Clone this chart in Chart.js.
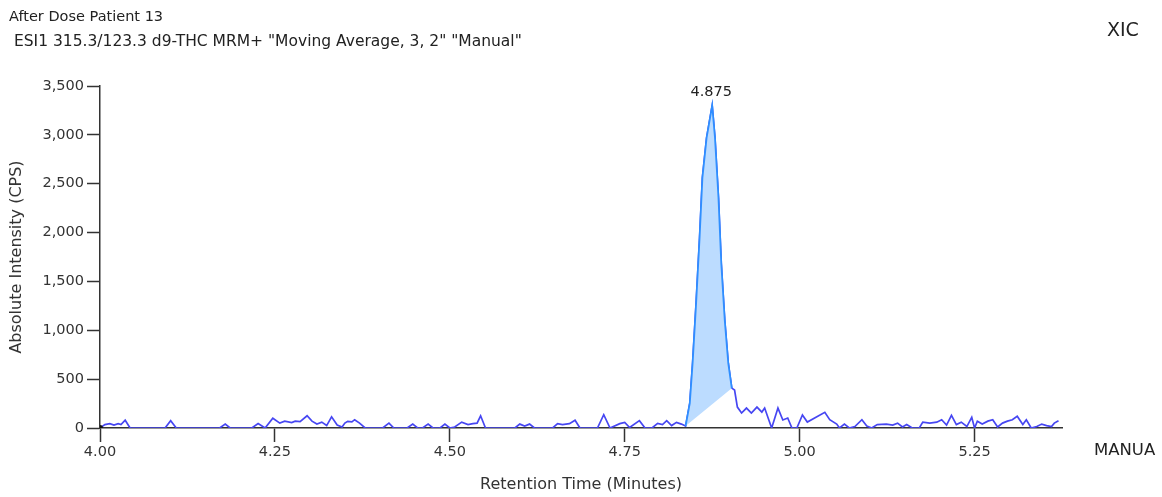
<!DOCTYPE html>
<html>
<head>
<meta charset="utf-8">
<script src="https://cdn.jsdelivr.net/npm/chart.js@4.4.1/dist/chart.umd.min.js"></script>
<style>
  html, body { margin: 0; padding: 0; background: #fff; }
  #chart { display: block; }
</style>
</head>
<body>
<canvas id="chart" width="1162" height="497"></canvas>
<script>
// XIC trace, retention time (min) vs intensity (cps)
const times = [
  4.000, 4.007, 4.014, 4.020, 4.026, 4.030, 4.036, 4.043, 4.093, 4.101, 4.109, 4.171, 4.179, 4.186,
  4.217, 4.226, 4.236, 4.247, 4.257, 4.264, 4.274, 4.279, 4.286, 4.296, 4.303, 4.310, 4.317, 4.324,
  4.331, 4.339, 4.346, 4.350, 4.354, 4.360, 4.364, 4.371, 4.379, 4.404, 4.413, 4.420, 4.439, 4.447,
  4.454, 4.461, 4.469, 4.476, 4.486, 4.493, 4.500, 4.507, 4.517, 4.526, 4.533, 4.539, 4.544, 4.551,
  4.593, 4.600, 4.607, 4.614, 4.621, 4.647, 4.654, 4.661, 4.671, 4.679, 4.686, 4.711, 4.720, 4.729,
  4.743, 4.750, 4.757, 4.771, 4.779, 4.789, 4.797, 4.804, 4.810, 4.817, 4.824, 4.831, 4.837,
  4.843, 4.847, 4.852, 4.857, 4.861, 4.867, 4.875, 4.879, 4.884, 4.888, 4.893, 4.898, 4.903,
  4.907, 4.911, 4.917, 4.924, 4.931, 4.939, 4.946, 4.950, 4.960, 4.969, 4.976, 4.983, 4.989, 4.996,
  5.004, 5.011, 5.024, 5.036, 5.043, 5.053, 5.057, 5.064, 5.071, 5.079, 5.089, 5.096, 5.103, 5.111,
  5.124, 5.133, 5.140, 5.147, 5.153, 5.161, 5.171, 5.176, 5.186, 5.196, 5.203, 5.210, 5.217, 5.224,
  5.231, 5.239, 5.246, 5.250, 5.254, 5.261, 5.269, 5.276, 5.283, 5.290, 5.297, 5.304, 5.311, 5.319,
  5.324, 5.331, 5.339, 5.346, 5.353, 5.360, 5.364, 5.370
];
const intensity = [
  0, 35, 45, 30, 45, 35, 80, 0, 0, 75, 0, 0, 40, 0,
  0, 45, 0, 100, 50, 70, 55, 70, 65, 125, 70, 40, 60, 25,
  115, 30, 10, 50, 68, 62, 85, 50, 0, 0, 50, 0, 0, 40,
  0, 0, 40, 0, 0, 40, 0, 10, 60, 35, 45, 50, 125, 0,
  0, 40, 20, 40, 0, 0, 45, 35, 45, 80, 0, 0, 136, 0,
  45, 58, 5, 75, 0, 0, 48, 35, 75, 25, 58, 40, 20,
  255, 663, 1275, 1950, 2560, 2970, 3300, 2970, 2356, 1683, 1100, 663, 408,
  388, 214, 153, 204, 153, 214, 163, 204, 0, 204, 82, 102, 0, 0,
  133, 61, 112, 160, 85, 40, 0, 40, 0, 15, 85, 20, 0, 35,
  40, 30, 50, 10, 35, 0, 0, 60, 50, 60, 85, 30, 130, 35,
  60, 15, 110, 0, 70, 40, 70, 85, 10, 50, 70, 85, 120, 35,
  85, 0, 15, 40, 25, 15, 50, 75
];

// integrated peak (manual integration)
const peakStart = 4.837;
const peakEnd = 4.903;
const peakApex = 4.875;

const xTicks = [4.00, 4.25, 4.50, 4.75, 5.00, 5.25];
const yTicks = [0, 500, 1000, 1500, 2000, 2500, 3000, 3500];

const titleLines = ['After Dose Patient 13', ' ESI1 315.3/123.3 d9-THC MRM+ "Moving Average, 3, 2" "Manual"'];

const FONT = '"DejaVu Sans", sans-serif';

const trace = times.map((t, i) => ({ x: t, y: intensity[i] }));
const peak = trace.filter(p => p.x >= peakStart && p.x <= peakEnd);
const baseline = [peak[0], peak[peak.length - 1]];
const apex = trace.find(p => p.x === peakApex);

const textPlugin = {
  id: 'texts',
  afterDraw(chart) {
    const ctx = chart.ctx;
    const { x, y } = chart.scales;
    ctx.save();
    ctx.fillStyle = '#222';
    ctx.textBaseline = 'middle';
    ctx.textAlign = 'left';
    ctx.font = '14.5px ' + FONT;
    ctx.fillText(titleLines[0], 9, 17);
    ctx.font = '15.5px ' + FONT;
    ctx.fillText(titleLines[1], 9, 42);
    ctx.font = '19px ' + FONT;
    ctx.fillText('XIC', 1107, 31);
    ctx.font = '16.5px ' + FONT;
    ctx.fillText('MANUA', 1094, 451);
    // peak label
    ctx.font = '14.5px ' + FONT;
    ctx.textAlign = 'center';
    ctx.textBaseline = 'bottom';
    ctx.fillText(peakApex.toFixed(3), x.getPixelForValue(apex.x) - 1, y.getPixelForValue(apex.y) - 6);
    ctx.restore();
  }
};

new Chart(document.getElementById('chart'), {
  type: 'line',
  data: {
    datasets: [
      {
        label: 'baseline',
        data: baseline,
        borderWidth: 0,
        borderColor: 'rgba(0,0,0,0)',
        pointRadius: 0,
        fill: false,
        order: 3
      },
      {
        label: 'peak',
        data: peak,
        borderColor: '#2f8fff',
        borderWidth: 1.8,
        backgroundColor: '#bcdcff',
        pointRadius: 0,
        fill: { target: 0 },
        order: 1
      },
      {
        label: 'XIC',
        data: trace,
        borderColor: '#4646f2',
        borderWidth: 1.7,
        pointRadius: (c) => c.dataIndex === 0 ? 3 : 0,
        pointBackgroundColor: '#111',
        pointBorderWidth: 0,
        fill: false,
        order: 2
      }
    ]
  },
  options: {
    responsive: false,
    devicePixelRatio: 1,
    animation: false,
    layout: { padding: { top: 86, right: 100, left: 0, bottom: 0 } },
    plugins: { legend: { display: false }, tooltip: { enabled: false } },
    scales: {
      x: {
        type: 'linear',
        min: 4.0,
        max: 5.375,
        afterBuildTicks: (s) => { s.ticks = xTicks.map(v => ({ value: v })); },
        afterFit: (s) => { s.height = 69; },
        grid: { drawOnChartArea: false, tickLength: 14, color: '#333', tickWidth: 1.5 },
        border: { display: true, color: '#333', width: 1.5 },
        ticks: {
          padding: 2,
          color: '#333',
          font: { family: FONT, size: 14.5 },
          maxRotation: 0,
          callback: (v) => Number(v).toFixed(2)
        },
        title: {
          display: true,
          text: 'Retention Time (Minutes)',
          color: '#333',
          font: { family: FONT, size: 16 },
          padding: { top: 0, bottom: 3 }
        }
      },
      y: {
        min: 0,
        max: 3500,
        afterBuildTicks: (s) => { s.ticks = yTicks.map(v => ({ value: v })); },
        afterFit: (s) => { s.width = 100; },
        grid: { drawOnChartArea: false, tickLength: 13, color: '#333', tickWidth: 1.5 },
        border: { display: true, color: '#333', width: 1.5 },
        ticks: {
          padding: 3,
          color: '#333',
          font: { family: FONT, size: 14.5 },
          callback: (v) => Number(v).toLocaleString('en-US')
        },
        title: {
          display: true,
          text: 'Absolute Intensity (CPS)',
          color: '#333',
          font: { family: FONT, size: 16 },
          padding: { top: 7, bottom: 0 }
        }
      }
    }
  },
  plugins: [textPlugin]
});
</script>
</body>
</html>
